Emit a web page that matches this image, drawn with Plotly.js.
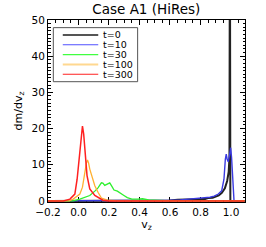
<!DOCTYPE html>
<html><head><meta charset="utf-8">
<script src="https://cdn.plot.ly/plotly-3.0.1.min.js"></script>
<style>html,body{margin:0;padding:0;background:#fff}#c{width:266px;height:247px}</style>
</head><body><div id="c"></div>
<script>
var names = ['t=0','t=10','t=30','t=100','t=300'];
var lineColors = ['#222222','#3a3ae0','#2ef02e','#ffb030','#ff2020'];
var legendColors = ['#555555','#5050ff','#40ff40','#ffd890','#ff2020'];

var x0 = [-0.2,0.55,0.6,0.65,0.7,0.72,0.75,0.78,0.8,0.83,0.85,0.88,0.9,0.92,0.94,0.96,0.975,0.985,0.99,0.993,0.996,1.0,1.09];
var y0 = [0,0,0.1,0.3,0.4,0.3,0.5,0.4,0.6,0.5,0.8,0.9,1.2,1.5,2.2,3.5,5.5,8,12,80,0,0,0];

var x10 = [-0.2,0.5,0.55,0.6,0.666,0.72,0.775,0.82,0.862,0.89,0.917,0.939,0.954,0.963,0.969,0.975,0.982,0.99,0.998,1.004,1.009,1.015,1.02,1.09];
var y10 = [0,0,0.1,0.2,0.3,0.45,0.55,0.7,1.0,1.3,1.9,2.8,6,11.5,12.9,11.5,10.8,12.5,14.7,12,7,0.5,0,0];

var x30 = [-0.2,-0.035,0.009,0.041,0.074,0.107,0.128,0.15,0.16,0.172,0.19,0.205,0.218,0.233,0.255,0.277,0.298,0.32,0.35,0.39,0.42,0.46,0.5,0.55,0.6,1.09];
var y30 = [0,0,0.5,1.0,1.5,2.7,3.6,5.0,4.9,4.3,4.6,5.0,4.1,3.0,2.7,2.2,1.5,0.9,0.5,0.5,0.6,0.3,0.2,0.1,0,0];

var x100 = [-0.2,-0.06,-0.035,0.009,0.026,0.041,0.052,0.059,0.066,0.074,0.092,0.107,0.128,0.15,0.19,0.25,1.09];
var y100 = [0,0,0.5,1.9,3.8,7.9,10.5,11.3,10.5,8.8,6,4.2,2.4,0.8,0.2,0,0];

var x300 = [-0.2,-0.1,-0.056,-0.024,-0.009,0.009,0.018,0.026,0.034,0.043,0.056,0.074,0.107,0.16,0.2,1.09];
var y300 = [0,0,0.5,1.9,6,14.3,18.5,20.7,18.5,14.3,7,3.3,1.5,0.2,0,0];

var xs = [x0,x10,x30,x100,x300];
var ys = [y0,y10,y30,y100,y300];
var widths = [2,1.4,1.3,1.3,1.5];

var traces = xs.map(function(x,i){
  return {x:x, y:ys[i], type:'scatter', mode:'lines', name:names[i],
          line:{color:lineColors[i], width:widths[i]}, hoverinfo:'skip'};
});

var fam = 'DejaVu Sans, sans-serif';
// manual legend (paper coords)
var shapes = [{type:'rect', xref:'paper', yref:'paper', x0:0.027, x1:0.455, y0:0.661, y1:0.958,
  line:{color:'#555555', width:1}, fillcolor:'rgba(0,0,0,0)'}];
var rowY = [0.918,0.864,0.810,0.756,0.702];
var annotations = [];
names.forEach(function(n,i){
  shapes.push({type:'line', xref:'paper', yref:'paper', x0:0.075, x1:0.255, y0:rowY[i], y1:rowY[i],
    line:{color:legendColors[i], width: i===0?2:(i===3?2:1.2)}});
  annotations.push({xref:'paper', yref:'paper', x:0.272, y:rowY[i], text:n, showarrow:false,
    xanchor:'left', yanchor:'middle', borderpad:0, font:{size:9.5, family:fam, color:'#000'}});
});

var font = {family:fam, size:10.5, color:'#000'};
var layout = {
  width:266, height:247,
  margin:{l:48, r:21, t:20, b:45},
  paper_bgcolor:'#fff', plot_bgcolor:'#fff',
  font: font,
  showlegend:false,
  title:{text:'Case A1 (HiRes)', font:{size:13.5, family:fam, color:'#000'},
         x:0.55, xanchor:'center', y:0.962, yanchor:'middle', yref:'container'},
  xaxis:{range:[-0.2,1.092], tickvals:[-0.2,0,0.2,0.4,0.6,0.8,1.0],
         ticktext:['\u22120.2','0.0','0.2','0.4','0.6','0.8','1.0'],
         ticks:'inside', ticklen:5, tickcolor:'#000', mirror:'allticks', showline:true, linecolor:'#000', linewidth:1,
         showgrid:false, zeroline:false, layer:'below traces',
         minor:{dtick:0.05, tick0:0, ticks:'inside', ticklen:2.5, tickcolor:'#000', showgrid:false},
         title:{text:'v<sub>z</sub>', font:{size:11, family:fam}, standoff:1}},
  yaxis:{range:[-0.3,50], tickvals:[0,10,20,30,40,50],
         ticks:'inside', ticklen:5, tickcolor:'#000', mirror:'allticks', showline:true, linecolor:'#000', linewidth:1,
         showgrid:false, zeroline:false, layer:'below traces',
         minor:{dtick:1, tick0:0, ticks:'inside', ticklen:2.5, tickcolor:'#000', showgrid:false},
         title:{text:'dm/dv<sub>z</sub>', font:{size:11, family:fam}, standoff:6}},
  shapes:shapes, annotations:annotations
};
Plotly.newPlot('c', traces, layout, {staticPlot:true});
</script></body></html>
